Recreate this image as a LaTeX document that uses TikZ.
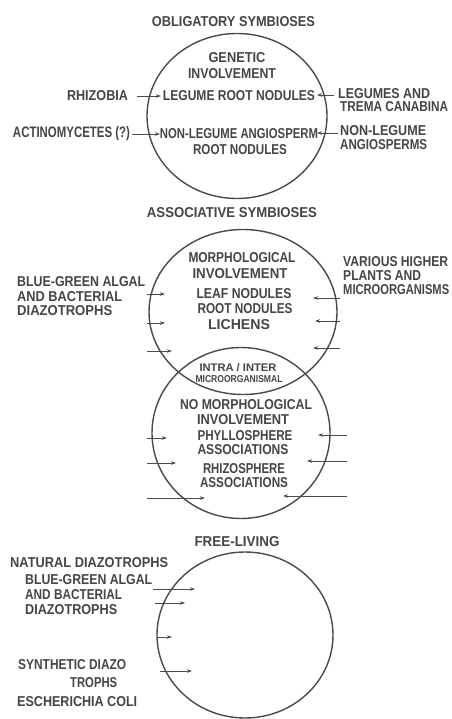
\documentclass[tikz,border=0pt]{standalone}
\usepackage{fontspec}
\setmainfont{Liberation Sans}
\usepackage{graphicx}
\usetikzlibrary{arrows.meta,shapes.geometric}
\definecolor{ink}{HTML}{454545}
\definecolor{penc}{HTML}{4A4A4A}
\newcommand{\fw}[2]{\resizebox{#1pt}{10pt}{\MakeUppercase{#2}}}
\newcommand{\fwh}[3]{\resizebox{#1pt}{#2pt}{\MakeUppercase{#3}}}
\tikzset{
  tx/.style={inner sep=0pt, text=ink, font=\fontsize{14}{14}\selectfont\bfseries},
  txl/.style={tx, anchor=west},
  ring/.style={draw=penc, line width=1.4pt, ellipse, inner sep=0pt},
  arr/.style={draw=penc, line width=0.9pt, -{Stealth[length=5pt,width=3.5pt]}},
  ln/.style={draw=penc, line width=0.9pt}
}
\begin{document}
\begin{tikzpicture}[x=1pt,y=-1pt]
\useasboundingbox[fill=white] (0,0) rectangle (451,719);

% ---------- circles ----------
\node[ring, minimum width=180pt, minimum height=165pt] (c1) at (237,116) {};
\node[ring, minimum width=188pt, minimum height=165pt] (c2) at (243,312) {};
\node[ring, minimum width=178pt, minimum height=171pt] (c3) at (241,433) {};
\node[ring, minimum width=176pt, minimum height=166pt] (c4) at (245,635) {};

% ---------- obligatory symbioses ----------
\node[tx] (t1) at (233.5,22) {\fw{163}{OBLIGATORY SYMBIOSES}};
\node[tx] (g1) at (237,58) {\fw{57}{GENETIC}};
\node[tx] (g2) at (232,74) {\fw{88}{INVOLVEMENT}};
\node[tx] (lrn) at (239,96) {\fw{152}{LEGUME ROOT NODULES}};
\node[tx] (nla) at (239,134) {\fw{158}{NON-LEGUME ANGIOSPERM}};
\node[tx] (rn) at (240,150) {\fw{94}{ROOT NODULES}};
\node[tx] (rhiz) at (97.5,96) {\fw{61}{RHIZOBIA}};
\node[tx] (act) at (71.5,134) {\fwh{117}{11}{ACTINOMYCETES (?)}};
\node[txl] (lega) at (338,94) {\fw{92}{LEGUMES AND}};
\node[txl] (legb) at (340,107) {\fw{108}{TREMA CANABINA}};
\node[txl] (nlra) at (340,131) {\fw{86}{NON-LEGUME}};
\node[txl] (nlrb) at (340,145) {\fw{87}{ANGIOSPERMS}};
\coordinate (o1a) at (137,96);  \coordinate (o1b) at (161,96);
\coordinate (o2a) at (132,134); \coordinate (o2b) at (160,134);
\coordinate (o3a) at (334,95);  \coordinate (o3b) at (317,95);
\coordinate (o4a) at (338,133); \coordinate (o4b) at (317,133);
\draw[arr] (o1a) -- (o1b);
\draw[arr] (o2a) -- (o2b);
\draw[arr] (o3a) -- (o3b);
\draw[arr] (o4a) -- (o4b);

% ---------- associative symbioses ----------
\node[tx] (t2) at (232,213) {\fw{170}{ASSOCIATIVE SYMBIOSES}};
\node[tx] (m1) at (242,258) {\fw{107}{MORPHOLOGICAL}};
\node[tx] (m2) at (240,274) {\fw{95}{INVOLVEMENT}};
\node[tx] (m3) at (244,294) {\fw{95}{LEAF NODULES}};
\node[tx] (m4) at (245,309) {\fw{95}{ROOT NODULES}};
\node[tx] (m5) at (239,325) {\fw{62}{LICHENS}};
\node[txl] (bga) at (17,282) {\fw{128}{BLUE-GREEN ALGAL}};
\node[txl] (bgb) at (17,297) {\fw{105}{AND BACTERIAL}};
\node[txl] (bgc) at (17,311) {\fw{95}{DIAZOTROPHS}};
\node[txl] (vha) at (343,262) {\fw{105}{VARIOUS HIGHER}};
\node[txl] (vhb) at (343,276) {\fw{78}{PLANTS AND}};
\node[txl] (vhc) at (343,290) {\fw{106}{MICROORGANISMS}};
\node[tx] (ia) at (238,368) {\fwh{77}{8}{INTRA / INTER}};
\node[tx] (ib) at (239,379) {\fwh{87}{7}{MICROORGANISMAL}};
\node[tx] (n1) at (246,405) {\fw{132}{NO MORPHOLOGICAL}};
\node[tx] (n2) at (243,420) {\fw{92}{INVOLVEMENT}};
\node[tx] (n3) at (245,436) {\fw{95}{PHYLLOSPHERE}};
\node[tx] (n4) at (243,450) {\fw{91}{ASSOCIATIONS}};
\node[tx] (n5) at (244,469) {\fw{82}{RHIZOSPHERE}};
\node[tx] (n6) at (244,483) {\fw{88}{ASSOCIATIONS}};
% left arrows (pointing inward)
\foreach \i/\yy/\xa/\xb in {1/294/147/165, 2/323/147/165, 3/351/147/172,
                            4/438/147/167, 5/463/147/176, 6/498/147/205}{
  \coordinate (la\i) at (\xa,\yy); \coordinate (lb\i) at (\xb,\yy);
  \draw[arr] (la\i) -- (lb\i);
}
% right arrows (pointing inward)
\foreach \i/\yy/\xa/\xb in {1/298/340/313, 2/321/340/315, 3/348/340/313,
                            4/435/347/318, 5/461/347/307, 6/496/347/283}{
  \coordinate (ra\i) at (\xa,\yy); \coordinate (rb\i) at (\xb,\yy);
  \draw[arr] (ra\i) -- (rb\i);
}

% ---------- free-living ----------
\node[tx] (t3) at (237,542) {\fw{85}{FREE-LIVING}};
\node[txl] (fa) at (10,563) {\fw{158}{NATURAL DIAZOTROPHS}};
\node[txl] (fb) at (25,580) {\fw{127}{BLUE-GREEN ALGAL}};
\node[txl] (fc) at (25,595) {\fw{97}{AND BACTERIAL}};
\node[txl] (fd) at (25,610) {\fw{92}{DIAZOTROPHS}};
\node[txl] (fe) at (18,665) {\fw{108}{SYNTHETIC DIAZO}};
\node[txl] (ff) at (70,683) {\fw{47}{TROPHS}};
\node[txl] (fg) at (17,702) {\fw{120}{ESCHERICHIA COLI}};
\foreach \i/\yy/\xa/\xb in {1/589/153/195, 2/603/155/185, 3/637/157/172, 4/671/160/192}{
  \coordinate (fa\i) at (\xa,\yy); \coordinate (fb\i) at (\xb,\yy);
  \draw[arr] (fa\i) -- (fb\i);
}
\end{tikzpicture}
\end{document}
